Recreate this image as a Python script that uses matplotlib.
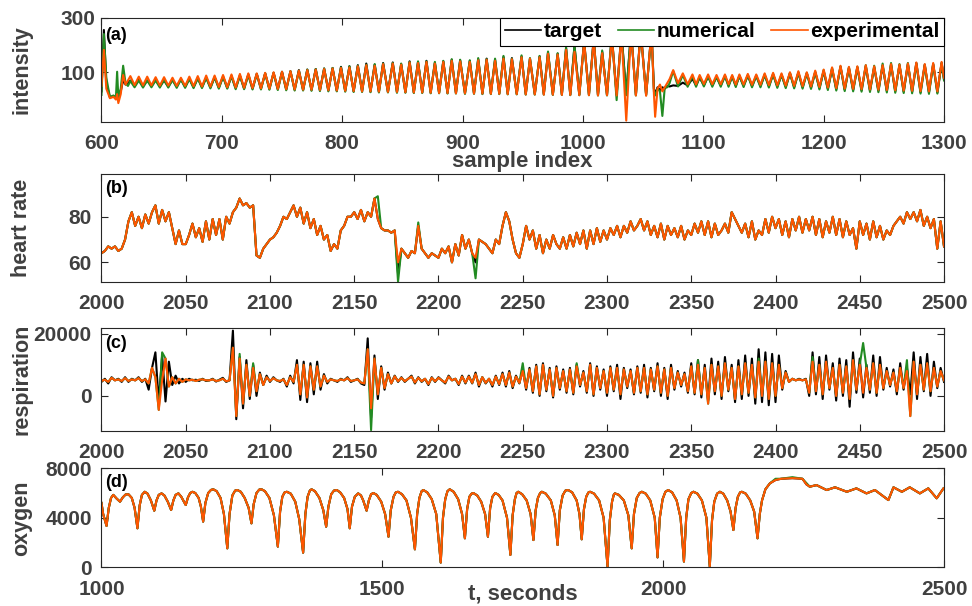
import numpy as np
import matplotlib
matplotlib.use('Agg')
import matplotlib.pyplot as plt

plt.rcParams['font.family'] = ['Liberation Sans', 'DejaVu Sans']
plt.rcParams['font.weight'] = 'bold'
plt.rcParams['axes.labelweight'] = 'bold'

C_T = 'black'
C_N = '#228B22'
C_E = '#FF5500'

# ---------------- (a) intensity vs sample index ----------------
# irregular start (600-622)
a_start_idx = [600, 602, 604, 607, 610, 612, 613, 614, 616, 618, 620, 622]
a_start_t = [30, 255, 60, 8, 12, 5, 15, 5, 30, 72, 55, 60]
a_start_n = [17, 240, 80, 10, 15, 8, 102, 10, 40, 124, 60, 50]
a_start_e = [50, 182, 40, 5, 10, 0, 20, -13, 20, 90, 55, 70]

# first oscillating stretch: peak positions and peak / trough values
a_pk1 = [624, 631, 638, 645, 652, 659, 666, 673, 680, 687, 694, 701, 708, 715, 722,
         729, 736, 743, 750, 757, 764, 771, 778, 785, 792, 799, 806, 813, 820, 827,
         834, 842, 849, 856, 863, 870, 877, 884, 891, 898, 906, 913, 920, 927, 934,
         941, 949, 956, 964, 971, 979, 986, 993, 1001, 1009, 1016, 1024, 1032, 1040,
         1048, 1057]
a_pk1_t = [70, 72, 70, 72, 70, 72, 74,
           76, 78, 80, 82, 84, 86, 88, 92,
           94, 96, 98, 102, 104, 108, 110, 112,
           114, 116, 120, 122, 126, 132, 128, 134,
           136, 130, 140, 138, 142, 135, 140, 146,
           144, 142, 148, 150, 146, 156, 152, 158,
           150, 158, 172, 168, 188, 196, 215, 225, 175, 235, 245, 250, 255, 250]
a_pk1_n = [68, 70, 70, 70, 72, 72, 74,
           76, 78, 80, 82, 84, 86, 88, 90,
           94, 96, 98, 100, 104, 106, 110, 112,
           114, 116, 118, 122, 124, 128, 130, 132,
           134, 132, 138, 140, 140, 138, 142, 148,
           146, 144, 152, 148, 150, 160, 150, 162,
           152, 160, 176, 170, 192, 198, 210, 222, 180, 240, 240, 252, 250, 250]
a_pk1_e = [86, 84, 84, 82, 82, 80, 80,
           84, 86, 88, 88, 90, 92, 94, 96,
           96, 98, 100, 102, 104, 106, 108, 110,
           112, 114, 116, 118, 122, 126, 124, 130,
           132, 128, 136, 134, 138, 132, 138, 142,
           140, 138, 144, 146, 142, 150, 148, 155,
           150, 155, 168, 165, 182, 175, 212, 220, 170, 230, 240, 248, 250, 255]
a_tr1_t = [50, 49, 50, 49, 48, 48, 47,
           46, 46, 45, 44, 43, 42, 41, 40,
           40, 39, 38, 37, 36, 35, 35, 34,
           33, 32, 31, 30, 30, 29, 28, 28,
           27, 27, 26, 26, 25, 25, 24, 24,
           23, 23, 22, 22, 22, 21, 21, 20,
           20, 20, 19, 19, 18, 18, 18, 17, 17, 17, 18, 17, 18]
a_tr1_n = [45, 44, 45, 44, 44, 43, 43,
           42, 42, 41, 40, 40, 38, 38, 37,
           37, 36, 35, 34, 33, 33, 32, 31,
           30, 30, 29, 28, 28, 27, 26, 26,
           25, 25, 24, 24, 23, 23, 22, 22,
           21, 21, 20, 20, 20, 19, 19, 18,
           18, 18, 17, 17, 16, 16, 16, 15, 15, -2, 16, 15, 16]
a_tr1_e = [53, 52, 52, 51, 51, 50, 50,
           49, 48, 47, 46, 45, 44, 43, 42,
           41, 40, 39, 38, 37, 36, 36, 35,
           34, 33, 32, 31, 30, 30, 29, 28,
           28, 27, 26, 26, 25, 24, 24, 23,
           23, 22, 22, 21, 21, 20, 20, 19,
           19, 18, 18, 17, 17, 16, 16, 15, 16, 15, -77, 15, 14]

# disturbed stretch 1059-1072
a_mid_idx = [1059, 1060, 1062, 1064, 1066, 1068, 1070, 1072]
a_mid_t = [40, 20, 45, 35, 45, 40, 50, 48]
a_mid_n = [30, 15, 40, 30, -60, 45, 45, 60]
a_mid_e = [20, -63, 40, 55, 30, 45, 60, 75]

# second oscillating stretch
a_pk2 = [1075, 1083, 1091, 1097, 1104, 1111, 1118, 1124, 1130, 1137, 1144, 1151, 1158,
         1165, 1172, 1179, 1186, 1193, 1200, 1207, 1214, 1221, 1228, 1235, 1242, 1249,
         1256, 1263, 1270, 1277, 1284, 1291, 1298]
a_pk2_t = [52, 62, 76, 80, 84, 82, 86, 84, 86, 88, 86, 90, 92, 90, 96, 98, 96, 100, 104,
           112, 120, 116, 118, 122, 118, 124, 128, 126, 130, 134, 128, 130, 134]
a_pk2_n = [105, 90, 86, 84, 86, 84, 88, 86, 88, 90, 88, 92, 94, 92, 98, 100, 98, 102, 108,
           116, 122, 118, 120, 126, 124, 132, 134, 130, 134, 132, 126, 130, 134]
a_pk2_e = [108, 96, 92, 90, 92, 90, 92, 90, 92, 94, 92, 96, 98, 96, 100, 104, 100, 106, 110,
           118, 124, 120, 122, 126, 122, 126, 130, 128, 132, 136, 130, 134, 138]
a_tr2_t = [50, 52, 52, 53, 52, 52, 52, 51, 51, 50, 50, 49, 48, 47, 46, 45, 44, 42, 40, 38,
           36, 35, 34, 33, 32, 31, 30, 29, 28, 27, 26, 26]
a_tr2_n = [48, 47, 47, 48, 47, 47, 47, 46, 46, 45, 45, 44, 43, 42, 41, 40, 39, 37, 35, 33,
           31, 30, 29, 28, 27, 26, 25, 24, 23, 22, 21, 22]
a_tr2_e = [60, 56, 56, 57, 56, 56, 56, 55, 55, 54, 54, 53, 52, 51, 50, 49, 48, 46, 44, 42,
           40, 39, 38, 37, 36, 35, 34, 33, 32, 31, 30, 30]
a_end_idx = [1300]
a_end_t, a_end_n, a_end_e = [75], [70], [80]

# ---------------- (b) heart rate, every 2 s from 2000 to 2500 ----------------
b_t = np.arange(2000, 2501, 2)
b_target = [
    64, 65, 67, 66, 67, 65, 66,
    70, 78, 82, 76, 80, 75, 81, 77, 82,
    85, 77, 83, 78, 82,
    75, 68, 74, 68, 68,
    72, 77, 71, 75, 69, 78, 70, 79, 72, 79,
    70, 80, 77, 82, 84, 88, 85, 86, 84, 85,
    63, 62, 66, 68, 70,
    71, 73, 76, 80, 79, 82, 85, 80, 84, 77,
    82, 75, 79, 72, 76, 70, 72, 65, 68, 66,
    74, 76, 80, 80, 82, 79, 83, 78, 82, 80,
    88, 79, 75, 74, 74, 73, 74, 55, 66, 64,
    62, 65, 64, 76, 66, 64, 62, 64, 63, 62,
    66, 64, 67, 60, 68, 63, 72, 66, 70, 64,
    60, 70, 69, 68, 66, 64, 70, 68, 76, 82,
    78, 70, 64, 62, 68, 76, 70, 74, 66, 72,
    64, 70, 66, 72, 68, 66, 71, 66, 72, 67,
    73, 68, 74, 66, 74, 68, 75, 69, 74, 70,
    75, 72, 76, 71, 76, 73, 78, 74, 76, 79,
    74, 78, 72, 76, 71, 77, 70, 76, 72, 75,
    71, 76, 70, 74, 72, 77, 73, 78, 72, 78,
    71, 77, 72, 74, 77, 73, 82, 79, 76, 73,
    77, 71, 78, 70, 74, 72, 79, 73, 80, 75,
    79, 72, 78, 71, 79, 74, 80, 73, 79, 74,
    80, 72, 79, 71, 78, 73, 80, 72, 79, 71,
    78, 72, 75, 66, 78, 72, 77, 70, 78, 71,
    76, 70, 74, 72, 76, 78, 80, 77, 82, 79,
    82, 78, 83, 76, 80, 75, 79, 66, 78, 67]
# where the numerical / experimental curves leave the target
b_num_changes = {2164: 89, 2176: 51.5, 2188: 77.5, 2222: 53}
b_exp_changes = {2176: 60, 2222: 62}

# ---------------- (c) respiration (thousands), every 2 s ----------------
c_t = np.arange(2000, 2501, 2)
c_target = [
    4.5, 5.5, 4.0, 6.0, 5.0, 5.5, 4.5, 6.0, 4.5, 5.5,
    5.0, 6.0, 4.5, 5.5, 2.0, 9.0, 14.0, -2.0, 13.0, -1.8,
    11.0, 3.5, 6.5, 4.0, 5.5, 4.5, 5.5, 5.0, 5.2, 4.8,
    5.5, 4.8, 5.0, 5.5, 4.6, 5.2, 5.8, 4.5, 5.0, 21.0,
    -7.5, 12.5, -4.0, 11.5, -1.0, 10.0, 0.0, 7.5, 3.5, 6.5,
    4.5, 6.0, 5.0, 4.5, 5.5, 3.0, 6.5, 4.0, 11.5, -1.3,
    11.0, -2.0, 10.5, 0.5, 11.0, 2.0, 7.0, 4.0, 5.5, 5.0,
    4.5, 5.5, 5.0, 6.0, 4.5, 5.0, 5.5, 4.0, 3.5, 18.5,
    -7.0, 13.0, -1.0, 9.5, 2.0, 7.5, 4.0, 6.5, 4.5, 6.0,
    4.5, 5.5, 6.5, 4.0, 6.0, 4.5, 5.5, 3.5, 6.0, 4.5,
    6.0, 5.0, 4.0, 6.5, 5.0, 5.5, 3.5, 6.5, 4.0, 6.5,
    4.0, 7.5, 3.0, 6.0, 4.0, 5.5, 3.0, 6.5, 3.5, 7.5,
    3.0, 8.0, 2.5, 6.5, 4.0, 8.5, 2.0, 9.0, 1.0, 10.0,
    0.0, 10.5, 1.5, 9.0, -0.5, 9.5, 2.0, 8.5, 1.0, 9.0,
    0.5, 10.0, 3.0, 8.0, 1.0, 10.5, 0.0, 9.5, 2.0, 8.5,
    0.0, 9.5, 1.5, 10.0, -1.0, 9.0, 2.5, 8.5, 0.5, 9.5,
    1.0, 10.0, -0.5, 9.0, 1.5, 10.5, 0.0, 9.0, -1.0, 10.0,
    2.0, 8.0, 3.0, 7.5, 1.0, 10.5, 0.5, 11.5, -0.5, 10.0,
    -1.5, 12.0, 0.5, 11.0, -1.0, 12.5, 1.5, 10.0, -2.0, 11.5,
    -1.0, 13.0, 0.0, 12.0, -2.5, 15.0, -2.0, 14.0, -3.0, 13.5,
    -2.0, 13.0, 2.0, 8.0, 4.5, 5.5, 5.0, 5.5, 5.0, 5.5,
    0.0, 14.0, 0.5, 12.5, -1.0, 13.0, 2.0, 10.5, -1.5, 12.0,
    0.0, 11.5, -3.5, 14.0, 1.0, 12.0, -0.5, 10.0, 1.0, 13.0,
    0.0, 12.5, 2.0, 9.0, 3.0, 8.5, 0.5, 10.5, 2.0, 9.0,
    0.5, 14.0, -1.0, 12.5, 1.5, 13.5, 0.0, 11.0, 2.5, 9.0,
    4.5]
c_exp = [
    4.8, 5.2, 4.5, 5.8, 5.0, 5.3, 4.8, 5.7, 4.8, 5.3,
    5.0, 5.7, 4.8, 5.3, 4.0, 9.0, 6.0, -4.5, 5.0, 12.0,
    3.0, 6.0, 4.0, 5.5, 4.5, 5.3, 5.0, 5.2, 4.8, 5.2,
    5.3, 5.0, 5.0, 5.3, 4.8, 5.0, 5.5, 4.7, 5.0, 15.5,
    -6.5, 12.0, -2.5, 10.0, 0.0, 9.0, 1.5, 7.0, 3.5, 6.0,
    4.8, 5.7, 5.0, 4.8, 5.3, 3.5, 6.0, 4.5, 10.0, 0.5,
    10.0, -0.5, 9.5, 2.0, 9.5, 3.0, 6.5, 4.5, 5.3, 5.0,
    4.8, 5.3, 5.0, 5.7, 4.8, 5.0, 5.3, 4.3, 4.0, 15.0,
    -4.0, 12.0, 0.5, 9.0, 2.5, 7.0, 4.0, 6.3, 4.7, 5.8,
    4.7, 5.5, 6.2, 4.3, 5.8, 4.7, 5.5, 3.8, 5.8, 4.7,
    5.8, 5.0, 4.3, 6.2, 5.0, 5.5, 3.8, 6.2, 4.3, 6.2,
    4.2, 7.0, 3.5, 6.0, 4.2, 5.5, 3.5, 6.2, 3.8, 7.0,
    3.5, 7.5, 3.0, 6.2, 4.2, 8.0, 2.5, 8.5, 1.5, 9.5,
    0.5, 10.0, 2.0, 8.5, 0.0, 9.0, 2.5, 8.0, 1.5, 8.5,
    1.0, 9.5, 3.5, 7.5, 1.5, 10.0, 0.5, 9.0, 2.5, 8.0,
    1.0, 9.0, 2.0, 9.0, 0.5, 8.5, 3.0, 8.0, 1.0, 9.0,
    1.5, 9.0, 0.5, 8.5, 2.0, 9.5, 1.0, 8.5, 0.0, 9.0,
    2.5, 7.5, 3.5, 7.0, 1.5, 9.5, 1.0, 10.0, 0.5, 9.0,
    -2.5, 10.0, 1.5, 9.5, 0.0, 10.5, 2.0, 9.0, -1.0, 9.5,
    0.5, 10.5, 1.0, 10.0, -0.5, 11.0, 0.0, 11.0, -1.0, 10.5,
    0.0, 10.0, 2.5, 7.5, 4.5, 5.5, 5.0, 5.3, 5.0, 5.3,
    1.0, 11.0, 1.5, 10.0, 0.5, 11.0, 2.5, 9.0, 0.0, 10.0,
    1.0, 9.5, -1.0, 11.5, 2.0, 10.0, 1.0, 9.0, 2.0, 10.5,
    1.0, 10.0, 2.5, 8.0, 3.5, 7.5, 1.5, 9.0, 2.5, 8.0,
    -6.5, 11.0, 0.5, 10.0, 2.0, 10.5, 1.5, 9.0, 3.0, 8.0,
    5.0]
c_num_changes = {2036: 14.0, 2082: 13.5, 2090: 10.5, 2120: 10.0, 2160: -11.0,
                 2250: 10.5, 2282: 10.5, 2354: 11.5, 2390: 12.0, 2422: 12.5,
                 2452: 17.0, 2478: 11.5}

# ---------------- (d) oxygen vs t ----------------
d_t = [1000, 1003, 1009, 1013, 1017, 1021, 1027, 1033, 1038, 1043, 1048, 1054, 1059, 1064,
       1068, 1072, 1077, 1082, 1088, 1094, 1098, 1102, 1107, 1112, 1118, 1124, 1128, 1132,
       1137, 1142, 1150, 1154, 1158, 1162, 1167, 1173, 1177, 1181, 1185, 1190, 1195, 1199,
       1205, 1212, 1218, 1224, 1228, 1233, 1238, 1242, 1248, 1255, 1262, 1267, 1271, 1276,
       1281, 1285, 1291, 1299, 1307, 1314, 1318, 1322, 1326, 1330, 1337, 1345, 1352, 1359,
       1363, 1367, 1371, 1374, 1380, 1388, 1395, 1400, 1404, 1409, 1414, 1419, 1425, 1432,
       1438, 1442, 1446, 1451, 1457, 1462, 1466, 1472, 1476, 1480, 1484, 1490, 1498, 1505,
       1511, 1515, 1520, 1524, 1528, 1535, 1543, 1551, 1558, 1562, 1566, 1570, 1573, 1580,
       1588, 1596, 1604, 1608, 1612, 1616, 1620, 1627, 1635, 1642, 1647, 1651, 1655, 1659,
       1662, 1669, 1676, 1683, 1688, 1692, 1696, 1701, 1707, 1714, 1722, 1728, 1732, 1736,
       1739, 1742, 1749, 1757, 1764, 1769, 1773, 1777, 1781, 1784, 1791, 1800, 1807, 1812,
       1816, 1821, 1826, 1831, 1838, 1846, 1851, 1855, 1859, 1863, 1867, 1870, 1877, 1886,
       1894, 1901, 1905, 1909, 1912, 1914, 1921, 1930, 1938, 1944, 1948, 1953, 1958, 1962,
       1969, 1977, 1985, 1990, 1994, 1999, 2004, 2009, 2016, 2024, 2031, 2037, 2041, 2045,
       2050, 2054, 2061, 2069, 2077, 2083, 2087, 2091, 2096, 2101, 2107, 2114, 2120, 2125,
       2129, 2133, 2137, 2140, 2147, 2155, 2162, 2168, 2172, 2176, 2182, 2190, 2200, 2210,
       2230, 2248, 2255, 2261, 2273, 2291, 2306, 2327, 2344, 2362, 2377, 2401, 2410, 2425,
       2439, 2457, 2472, 2487, 2499, 2500]
d_target = [5200, 4300, 3340, 4800, 5600, 5850, 5550, 5300, 5650, 5880, 5900, 5600, 4800, 3150,
            5000, 5850, 6100, 5950, 5400, 4570, 5400, 5850, 5970, 5800, 5300, 4630, 5400, 5850,
            5970, 5700, 5030, 5650, 6000, 6100, 6000, 5600, 4900, 3690, 5200, 6000, 6250, 6300,
            6150, 5600, 4300, 1530, 4300, 5800, 6200, 6240, 6100, 5600, 4800, 3550, 5100, 6000,
            6280, 6300, 6150, 5600, 4200, 1670, 4500, 5700, 6050, 6100, 5950, 5300, 3900, 1180,
            4300, 5700, 6200, 6300, 6150, 5600, 4600, 3280, 4900, 5900, 6200, 6240, 6050, 5600,
            4700, 3150, 4900, 5700, 5970, 5800, 5400, 4570, 5400, 5900, 6000, 5850, 5300, 4300,
            2470, 4600, 5700, 6050, 6100, 5900, 5400, 4000, 1450, 4300, 5600, 6150, 6240, 6050,
            5500, 4300, 380, 4000, 5500, 6150, 6300, 6100, 5500, 4300, 2340, 4700, 5700, 5950,
            6000, 5800, 5300, 4300, 2470, 4800, 5700, 6000, 5850, 5400, 4000, 1000, 4200, 5500,
            6000, 6100, 5900, 5400, 4300, 2200, 4600, 5600, 6000, 6100, 5950, 5400, 4200, 1800,
            4600, 5800, 6200, 6240, 6050, 5400, 4300, 2260, 4700, 5700, 6050, 6100, 5950, 5400,
            4000, 50, 3800, 5300, 5850, 5970, 5850, 5400, 4200, 1530, 4300, 5600, 6000, 6100,
            5950, 5400, 4000, 800, 4000, 5500, 6100, 6240, 6050, 5400, 4000, 460, 4000, 5500,
            6000, 6100, 5950, 5400, 4000, 50, 3800, 5300, 5950, 6100, 5950, 5400, 4500, 3010,
            4800, 5700, 6050, 6100, 5950, 5400, 4500, 2340, 4300, 5400, 6300, 6780, 7050, 7150,
            7200, 7150, 6700, 6510, 6640, 6240, 6460, 6100, 6375, 5970, 6240, 5430, 6460, 6100,
            6460, 5970, 6375, 5570, 6375, 6400]
d_num_changes = {2200: 7150, 2230: 7280, 2255: 6800}


def zigzag(start_idx, start_v, pk, pk_v, tr_v):
    xs, ys = list(start_idx), list(start_v)
    for i in range(len(pk)):
        xs.append(pk[i])
        ys.append(pk_v[i])
        if i < len(tr_v):
            xs.append((pk[i] + pk[i + 1]) / 2)
            ys.append(tr_v[i])
    return xs, ys


def series_a(st, p1, t1, mid, p2, t2, end):
    x1, y1 = zigzag(a_start_idx, st, a_pk1, p1, t1)
    x2, y2 = zigzag(a_mid_idx, mid, a_pk2, p2, t2)
    return x1 + x2 + a_end_idx, y1 + y2 + end


def with_changes(t, base, changes, scale=1.0):
    vals = np.array(base, dtype=float)
    for k, v in changes.items():
        vals[list(t).index(k)] = v
    return vals * scale


fig = plt.figure(figsize=(9.72, 6.06), dpi=100)
pos = [[0.1044, 0.7992, 0.8668, 0.1716],
       [0.1044, 0.5351, 0.8668, 0.1772],
       [0.1044, 0.2893, 0.8668, 0.1695],
       [0.1044, 0.0639, 0.8668, 0.1634]]
axs = [fig.add_axes(p) for p in pos]

lw = 1.5
# (a)
ax = axs[0]
xa, ya = series_a(a_start_t, a_pk1_t, a_tr1_t, a_mid_t, a_pk2_t, a_tr2_t, a_end_t)
ax.plot(xa, ya, color=C_T, lw=lw, label='target')
xa, ya = series_a(a_start_n, a_pk1_n, a_tr1_n, a_mid_n, a_pk2_n, a_tr2_n, a_end_n)
ax.plot(xa, ya, color=C_N, lw=lw, label='numerical')
xa, ya = series_a(a_start_e, a_pk1_e, a_tr1_e, a_mid_e, a_pk2_e, a_tr2_e, a_end_e)
ax.plot(xa, ya, color=C_E, lw=lw, label='experimental')
ax.set_xlim(600, 1300)
ax.set_ylim(-81, 300)
ax.set_xticks(range(600, 1301, 100))
ax.set_yticks([100, 300])
leg = ax.legend(loc='upper right', bbox_to_anchor=(1, 1), borderaxespad=0, ncol=3,
                fontsize=15, handlelength=1.75, handletextpad=0.12, columnspacing=0.75,
                fancybox=False, framealpha=1, edgecolor='black', borderpad=0.22)
leg.get_frame().set_linewidth(0.8)
for h in leg.get_lines():
    h.set_linewidth(1.2)
ax.set_xlabel('sample index', fontsize=16)
ax.xaxis.set_label_coords(0.5, -0.285)
ax.xaxis.label.set_va('top')

# (b)
ax = axs[1]
ax.plot(b_t, b_target, color=C_T, lw=lw)
ax.plot(b_t, with_changes(b_t, b_target, b_num_changes), color=C_N, lw=lw)
ax.plot(b_t, with_changes(b_t, b_target, b_exp_changes), color=C_E, lw=lw)
ax.set_xlim(2000, 2500)
ax.set_ylim(51.5, 98.6)
ax.set_xticks(range(2000, 2501, 50))
ax.set_yticks([60, 80])

# (c)
ax = axs[2]
ax.plot(c_t, np.array(c_target) * 1000, color=C_T, lw=lw)
ax.plot(c_t, with_changes(c_t, c_exp, c_num_changes, 1000), color=C_N, lw=lw)
ax.plot(c_t, np.array(c_exp) * 1000, color=C_E, lw=lw)
ax.set_xlim(2000, 2500)
ax.set_ylim(-11190, 21840)
ax.set_xticks(range(2000, 2501, 50))
ax.set_yticks([0, 20000])

# (d)
ax = axs[3]
ax.plot(d_t, d_target, color=C_T, lw=lw)
ax.plot(d_t, with_changes(d_t, d_target, d_num_changes), color=C_N, lw=lw)
ax.plot(d_t, d_target, color=C_E, lw=lw)
ax.set_xlim(1000, 2500)
ax.set_ylim(0, 8000)
ax.set_xticks([1000, 1500, 2000, 2500])
ax.set_yticks([0, 4000, 8000])
ax.set_xlabel('t, seconds', fontsize=16)
ax.xaxis.set_label_coords(0.5, -0.165)
ax.xaxis.label.set_va('top')

ylabels = ['intensity', 'heart rate', 'respiration', 'oxygen']
tags = ['(a)', '(b)', '(c)', '(d)']
tag_y = [0.824, 0.872, 0.847, 0.857]
for i, ax in enumerate(axs):
    ax.tick_params(direction='in', top=True, right=True, length=5, width=0.8,
                   color='#262626', labelcolor='#404040', labelsize=15)
    ax.tick_params(axis='x', pad=9)
    ax.tick_params(axis='y', pad=7 if i else 4.5)
    for s in ax.spines.values():
        s.set_color('#262626')
        s.set_linewidth(0.8)
    ax.set_ylabel(ylabels[i], fontsize=15.5, color='#404040', fontweight='bold')
    ax.yaxis.set_label_coords(-0.082, 0.5)
    ax.text(0.004, tag_y[i], tags[i], transform=ax.transAxes, fontsize=13,
            fontweight='bold', va='center', ha='left', color='black')
axs[0].xaxis.label.set_color('#404040')
axs[3].xaxis.label.set_color('#404040')

fig.savefig('out.png', dpi=100)
